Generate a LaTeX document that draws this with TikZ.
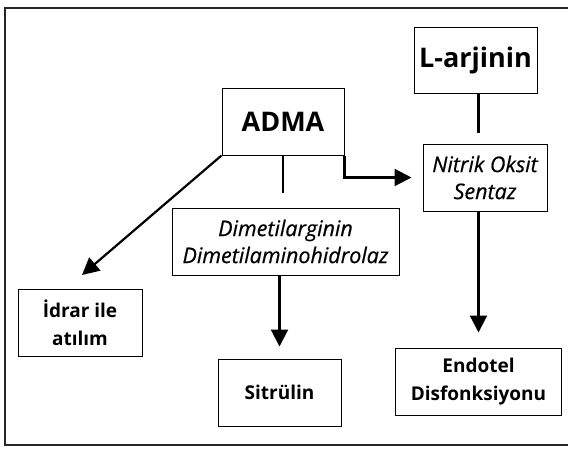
\documentclass[tikz,border=0pt]{standalone}
\usepackage{fontspec}
\setmainfont{Open Sans}
\usetikzlibrary{calc,positioning,arrows,arrows.meta}

\begin{document}
\begin{tikzpicture}[x=1pt, y=-1pt]
\tikzstyle{box}=[draw, line width = 1pt, inner sep = 2pt, align = center]
\tikzstyle{big}=[box, font = \fontsize{27}{32}\selectfont\bfseries]
\tikzstyle{enz}=[box, font = \fontsize{21.5}{27}\selectfont\itshape\addfontfeature{FakeBold=0.6}]
\tikzstyle{end}=[box, font = \fontsize{19}{28}\selectfont\bfseries]
\tikzstyle{lnk}=[line width = 2.2pt]
\tikzstyle{arr}=[lnk, -{Triangle[length=17pt, width=17pt]}]

\useasboundingbox (0,0) rectangle (568,451);
\draw[line width = 2.6pt, black!85] (575,8) -- (5,8) -- (5,445) -- (575,445);

\node[big, minimum width = 123pt, minimum height = 66pt] (lar) at (475.5,60) {L-arjinin};
\node[big, minimum width = 122pt, minimum height = 67pt] (adma) at (283,121.5) {ADMA};
\node[enz, minimum width = 124pt, minimum height = 67pt] (nos) at (485,177.5) {Nitrik Oksit\\Sentaz};
\node[enz, minimum width = 227pt, minimum height = 67pt] (ddah) at (285.5,241.5) {Dimetilarginin\\Dimetilaminohidrolaz};
\node[end, minimum width = 124pt, minimum height = 67pt] (idrar) at (80,322.5) {İdrar ile\\atılım};
\node[end, minimum width = 123pt, minimum height = 67pt] (sit) at (279.5,392.5) {Sitrülin};
\node[end, minimum width = 166pt, minimum height = 67pt] (endo) at (478.5,381.5) {Endotel\\Disfonksiyonu};

\coordinate (idrtip) at (82,275);

% connectors
\draw[lnk, shorten >= 11pt] (lar.south -| endo.north) -- (nos.north -| endo.north);
\draw[lnk, shorten >= 15pt] (adma.south) -- (adma.south |- ddah.north);
\draw[arr, shorten >= 11pt] (adma.south east) |- (nos.west);
\draw[arr] (adma.south west) -- (idrtip);
\draw[arr, shorten >= 12pt] (ddah.south -| sit.north) -- (sit.north);
\draw[arr, shorten >= 15pt] (nos.south -| endo.north) -- (endo.north);
\end{tikzpicture}
\end{document}
